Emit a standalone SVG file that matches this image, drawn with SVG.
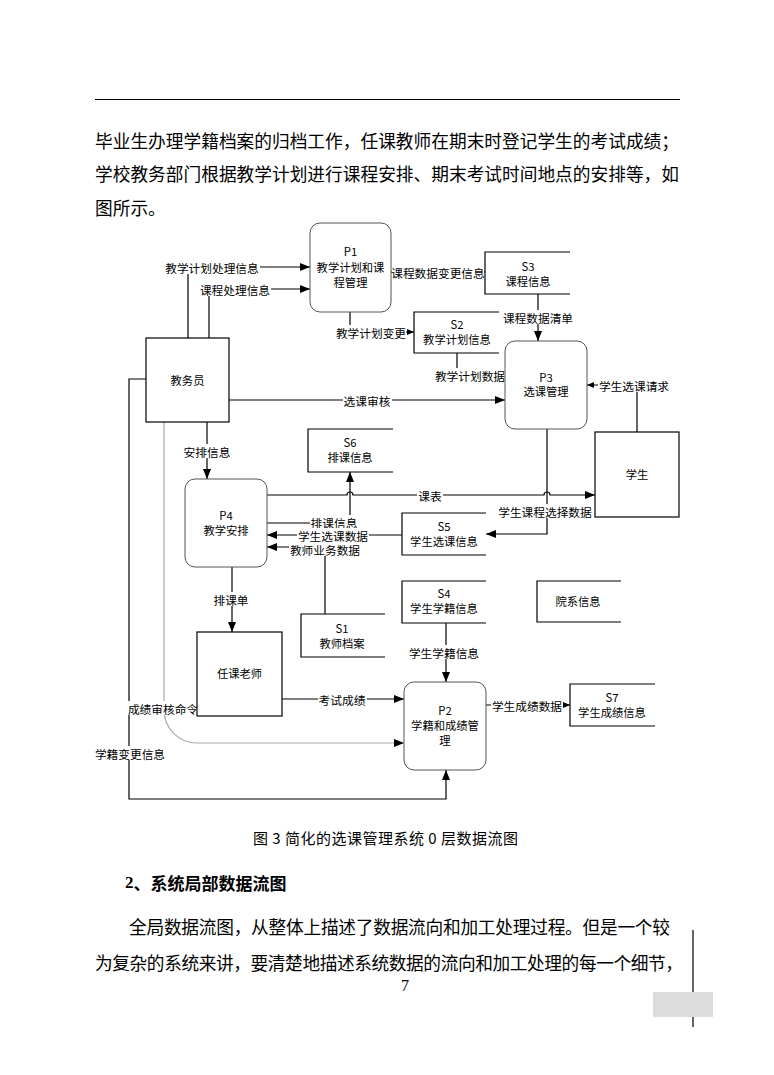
<svg xmlns="http://www.w3.org/2000/svg" width="774" height="1075" viewBox="0 0 774 1075">
<defs>
<style>
.t{font-family:"Noto Sans CJK SC","Noto Sans",sans-serif;font-size:11.7px;fill:#000;text-anchor:middle;dominant-baseline:central}
.n{font-family:"Noto Sans CJK SC","Noto Sans",sans-serif;font-size:11.3px;fill:#000;text-anchor:middle;dominant-baseline:central}
.body{font-family:"Noto Sans CJK SC","Noto Sans",sans-serif;font-size:17.7px;fill:#000;dominant-baseline:central}
.proc{fill:#fff;stroke:#555;stroke-width:1}
.ext{fill:#fff;stroke:#000;stroke-width:1.2}
.store{fill:#fff;stroke:#000;stroke-width:1.2}
.ln{fill:none;stroke:#000;stroke-width:1.2}
.gl{fill:none;stroke:#aaa;stroke-width:1.2}
.bg{fill:#fff}
</style>
<marker id="a" markerUnits="userSpaceOnUse" markerWidth="10" markerHeight="8" refX="10" refY="4" orient="auto"><path d="M0,0 L10,4 L0,8 z" fill="#000"/></marker>
<marker id="s" markerUnits="userSpaceOnUse" markerWidth="7" markerHeight="6" refX="7" refY="3" orient="auto"><path d="M0,0 L7,3 L0,6 z" fill="#000"/></marker>
</defs>
<rect width="774" height="1075" fill="#fff"/>

<g id="page">
<line x1="95" y1="99.5" x2="680" y2="99.5" stroke="#000" stroke-width="1"/>
<text class="body" x="95" y="140" textLength="584">毕业生办理学籍档案的归档工作，任课教师在期末时登记学生的考试成绩；</text>
<text class="body" x="95" y="173" textLength="584">学校教务部门根据教学计划进行课程安排、期末考试时间地点的安排等，如</text>
<text class="body" x="95" y="207">图所示。</text>
<text class="body" x="253" y="837" style="font-size:15px" textLength="265">图 3 简化的选课管理系统 0 层数据流图</text>
<text class="body" x="125" y="882" style="font-size:17px;font-weight:bold"><tspan style="font-family:'Liberation Serif',serif">2</tspan>、系统局部数据流图</text>
<text class="body" x="129" y="926" textLength="541">全局数据流图，从整体上描述了数据流向和加工处理过程。但是一个较</text>
<text class="body" x="95" y="962" textLength="588">为复杂的系统来讲，要清楚地描述系统数据的流向和加工处理的每一个细节，</text>
<text x="405" y="991" style="font-family:'Liberation Serif',serif;font-size:16px" text-anchor="middle" fill="#000">7</text>
<line x1="693" y1="930" x2="693" y2="1027" stroke="#000" stroke-width="1.2"/>
<rect x="653" y="992" width="60" height="25" fill="#dcdcdc"/>
</g>

<g id="connectors">
<path class="ln" d="M188 338 V267 H310" marker-end="url(#a)"/>
<path class="ln" d="M209 338 V289 H310" marker-end="url(#a)"/>
<path class="ln" d="M391 272 H485"/>
<path class="ln" d="M350 312 V332 H414" marker-end="url(#s)"/>
<path class="ln" d="M538 294 V341" marker-end="url(#a)"/>
<path class="ln" d="M457 353 V375 H505"/>
<path class="ln" d="M229 400 H505" marker-end="url(#a)"/>
<path class="ln" d="M637 432 V385 H587" marker-end="url(#s)"/>
<path class="ln" d="M207 422 V479" marker-end="url(#a)"/>
<path class="ln" d="M267 495 H347 a3 3 0 0 1 6 0 H544 a3 3 0 0 1 6 0 H595" marker-end="url(#a)"/>
<path class="ln" d="M267 523 H350 V472" marker-end="url(#a)"/>
<path class="ln" d="M402 535 H267" marker-end="url(#a)"/>
<path class="ln" d="M325 614 V547 H267" marker-end="url(#a)"/>
<path class="ln" d="M547 429 V534 H486" marker-end="url(#a)"/>
<path class="ln" d="M232 567 V632" marker-end="url(#a)"/>
<path class="ln" d="M282 699 H404" marker-end="url(#a)"/>
<path class="gl" d="M164 422 V710 A33 33 0 0 0 197 743 H404" marker-end="url(#a)"/>
<path class="ln" d="M146 379 H129 V799 H446 V770" marker-end="url(#a)"/>
<path class="ln" d="M446 623 V682" marker-end="url(#a)"/>
<path class="ln" d="M486 705 H570" marker-end="url(#s)"/>

<rect class="bg" x="164" y="260" width="96" height="14"/><text class="t" x="212" y="267">教学计划处理信息</text>
<rect class="bg" x="199" y="282" width="72" height="14"/><text class="t" x="235" y="289">课程处理信息</text>
<rect class="bg" x="392" y="265" width="92" height="14"/><text class="t" x="438" y="272">课程数据变更信息</text>
<rect class="bg" x="336" y="325" width="70" height="14"/><text class="t" x="371" y="332">教学计划变更</text>
<rect class="bg" x="502" y="310" width="72" height="14"/><text class="t" x="538" y="317">课程数据清单</text>
<rect class="bg" x="434" y="368" width="71" height="14"/><text class="t" x="470" y="375">教学计划数据</text>
<rect class="bg" x="343" y="393" width="49" height="14"/><text class="t" x="367" y="400">选课审核</text>
<rect class="bg" x="598" y="378" width="72" height="14"/><text class="t" x="634" y="385">学生选课请求</text>
<rect class="bg" x="183" y="444" width="49" height="14"/><text class="t" x="207" y="451">安排信息</text>
<rect class="bg" x="417" y="488" width="26" height="14"/><text class="t" x="430" y="495">课表</text>
<rect class="bg" x="310" y="515" width="49" height="14"/><text class="t" x="334" y="522">排课信息</text>
<rect class="bg" x="297" y="528" width="72" height="14"/><text class="t" x="333" y="535">学生选课数据</text>
<rect class="bg" x="289" y="542" width="72" height="14"/><text class="t" x="325" y="549">教师业务数据</text>
<rect class="bg" x="497" y="504" width="96" height="14"/><text class="t" x="545" y="511">学生课程选择数据</text>
<rect class="bg" x="213" y="592" width="37" height="14"/><text class="t" x="231" y="599">排课单</text>
<rect class="bg" x="318" y="692" width="49" height="14"/><text class="t" x="342" y="699">考试成绩</text>
<rect class="bg" x="127" y="701" width="71" height="14"/><text class="t" x="163" y="708">成绩审核命令</text>
<rect class="bg" x="94" y="746" width="72" height="14"/><text class="t" x="130" y="753">学籍变更信息</text>
<rect class="bg" x="408" y="645" width="72" height="14"/><text class="t" x="444" y="652">学生学籍信息</text>
<rect class="bg" x="491" y="698" width="72" height="14"/><text class="t" x="527" y="705">学生成绩数据</text>
</g>

<g id="P1"><rect class="proc" x="310" y="223" width="81" height="89" rx="10"/><text class="n" x="350.5" y="251">P1</text><text class="n" x="350.5" y="267">教学计划和课</text><text class="n" x="350.5" y="282">程管理</text></g>
<g id="P3"><rect class="proc" x="505" y="341" width="82" height="88" rx="10"/><text class="n" x="546" y="377">P3</text><text class="n" x="546" y="391">选课管理</text></g>
<g id="P4"><rect class="proc" x="185" y="479" width="82" height="88" rx="10"/><text class="n" x="226" y="515">P4</text><text class="n" x="226" y="530">教学安排</text></g>
<g id="P2"><rect class="proc" x="404" y="682" width="82" height="88" rx="10"/><text class="n" x="445" y="710">P2</text><text class="n" x="445" y="725">学籍和成绩管</text><text class="n" x="445" y="740">理</text></g>
<g id="jiaowuyuan"><rect class="ext" x="146" y="338" width="83" height="84"/><text class="n" x="187.5" y="380">教务员</text></g>
<g id="xuesheng"><rect class="ext" x="595" y="432" width="84" height="85"/><text class="n" x="637" y="474">学生</text></g>
<g id="renkelaoshi"><rect class="ext" x="197" y="632" width="85" height="84"/><text class="n" x="239.5" y="673">任课老师</text></g>
<g id="S3"><path class="store" d="M570 252 H485 V294 H570"/><text class="n" x="528" y="266">S3</text><text class="n" x="528" y="281">课程信息</text></g>
<g id="S2"><path class="store" d="M499 312 H414 V353 H499"/><text class="n" x="457" y="324">S2</text><text class="n" x="457" y="339">教学计划信息</text></g>
<g id="S6"><path class="store" d="M393 429 H308 V472 H393"/><text class="n" x="350" y="442">S6</text><text class="n" x="350" y="457">排课信息</text></g>
<g id="S5"><path class="store" d="M486 513 H402 V555 H486"/><text class="n" x="444" y="526">S5</text><text class="n" x="444" y="541">学生选课信息</text></g>
<g id="S4"><path class="store" d="M486 581 H402 V623 H486"/><text class="n" x="444" y="593">S4</text><text class="n" x="444" y="608">学生学籍信息</text></g>
<g id="yuanxi"><path class="store" d="M621 581 H537 V622 H621"/><text class="n" x="578" y="601">院系信息</text></g>
<g id="S1"><path class="store" d="M385 614 H301 V657 H385"/><text class="n" x="342" y="628">S1</text><text class="n" x="342" y="643">教师档案</text></g>
<g id="S7"><path class="store" d="M655 684 H570 V726 H655"/><text class="n" x="612" y="697">S7</text><text class="n" x="612" y="712">学生成绩信息</text></g>
</svg>
